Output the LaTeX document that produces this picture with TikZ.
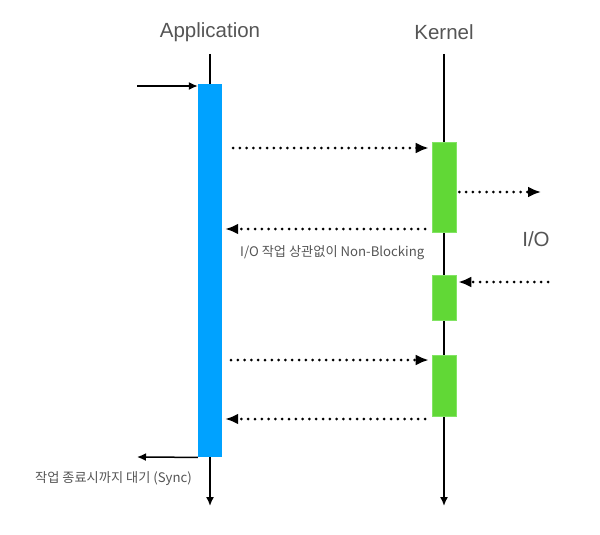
\documentclass[tikz,border=0pt]{standalone}
\usepackage{fontspec}
\setmainfont{Liberation Sans}
\newfontfamily\krfont{Noto Sans CJK KR}
\usepackage{tikz}
\usetikzlibrary{arrows.meta,positioning}

\definecolor{appblue}{RGB}{0,162,255}
\definecolor{kgreen}{RGB}{97,216,54}
\definecolor{kgreenedge}{RGB}{130,228,100}
\definecolor{txtgray}{RGB}{85,85,85}

\begin{document}
\begin{tikzpicture}[x=1pt, y=-1pt,
        title/.style={text=txtgray, font=\fontsize{20.5}{22}\selectfont},
        note/.style={text=txtgray, font=\krfont\fontsize{13.2}{15}\selectfont, inner sep=0pt},
        lifeline/.style={line width=1.6pt, -{Latex[length=9pt,width=8pt]}},
        appbox/.style={fill=appblue, draw=none, minimum width=24pt, inner sep=0pt, anchor=north},
        kbox/.style={fill=kgreen, draw=kgreenedge, line width=0.6pt, minimum width=24pt, inner sep=0pt, anchor=north},
        callarrow/.style={line width=1.5pt, -{Latex[length=9pt,width=8pt]}},
        dotarrow/.style={line width=3pt, line cap=round, dash pattern=on 0pt off 6.8pt, -{Latex[length=13pt,width=11pt]}}]
    \useasboundingbox (0,0) rectangle (600,535);

    % titles
    \node[title] (app) at (210,32) {Application};
    \node[title] (kern) at (444,32) {Kernel};

    % lifelines
    \coordinate (apptop) at (210,54);
    \coordinate (append) at (210,506);
    \coordinate (ktop) at (444,54);
    \coordinate (kend) at (444,506);
    \draw[lifeline] (apptop) -- (append);
    \draw[lifeline] (ktop) -- (kend);

    % activation bars
    \node[appbox, minimum height=373pt] (appbar) at (210,84) {};
    \node[kbox, minimum height=90pt] (kbar1) at (444,142) {};
    \node[kbox, minimum height=45pt] (kbar2) at (444,275) {};
    \node[kbox, minimum height=61pt] (kbar3) at (444,355) {};

    % call in / return
    \coordinate (callin) at (137,86);
    \coordinate (callout) at (137,457);
    \draw[callarrow] (callin) -- (appbar.west |- callin);
    \draw[callarrow] (appbar.south west) -- (callout);

    % request / immediate return
    \coordinate (req1) at (233,148);
    \coordinate (ret1) at (425,229);
    \draw[dotarrow, shorten >=3pt] (req1) -- (kbar1.west |- req1);
    \draw[dotarrow, shorten >=3pt] (ret1) -- (appbar.east |- ret1);

    % I/O
    \coordinate (ioout) at (541,192);
    \coordinate (ioin) at (548,282);
    \draw[dotarrow, shorten <=3pt] (kbar1.east |- ioout) -- (ioout);
    \draw[dotarrow, shorten >=2pt] (ioin) -- (kbar2.east |- ioin);
    \node[title] (io) at (536,239) {I/O};

    % second request / return
    \coordinate (req2) at (231,360);
    \coordinate (ret2) at (425,419);
    \draw[dotarrow, shorten >=3pt] (req2) -- (kbar3.west |- req2);
    \draw[dotarrow, shorten >=3pt] (ret2) -- (appbar.east |- ret2);

    % notes
    \node[note, anchor=west] (nonblock) at (240,253) {I/O 작업 상관없이 Non-Blocking};
    \node[note, anchor=west] (wait) at (35,479) {작업 종료시까지 대기 (Sync)};
\end{tikzpicture}
\end{document}
